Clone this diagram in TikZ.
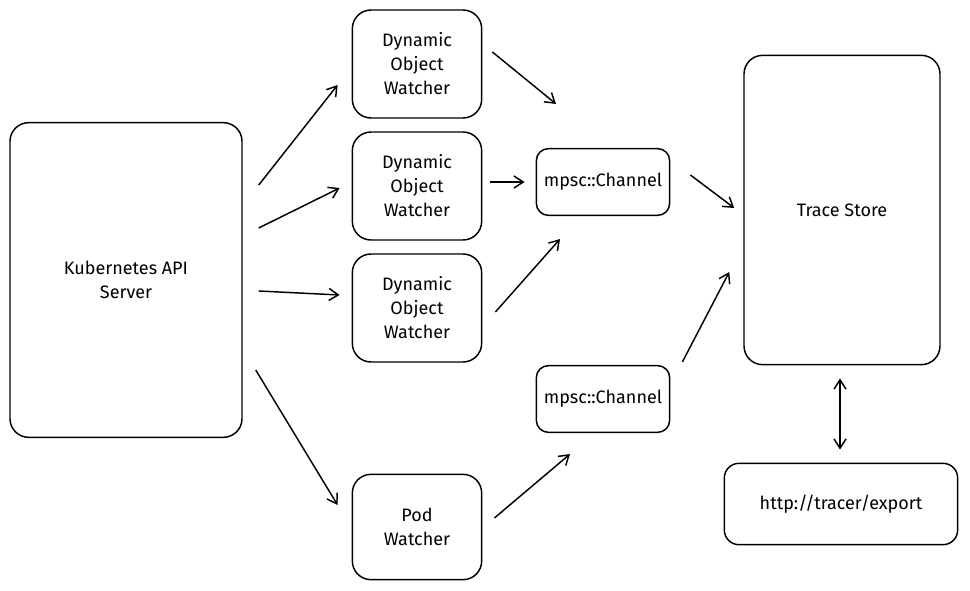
\documentclass[tikz,border=0pt]{standalone}
\usepackage{fontspec}
\setmainfont{Fira Sans}
\usetikzlibrary{arrows.meta, calc, positioning}
\tikzset{
  box/.style={rectangle, rounded corners=14pt, draw=black, line width=1.1pt, align=center,
    font=\fontsize{13.5}{18}\selectfont, inner sep=0pt},
  arrow/.style={line width=1.1pt, -{Straight Barb[length=7pt, width=9pt]}}
}
\begin{document}
\begin{tikzpicture}[x=0.75pt, y=-0.75pt]
  \useasboundingbox (0,0) rectangle (970,591);
  \node (k8s) [box, minimum width=174pt, minimum height=236pt] at (126,280) {Kubernetes API\\Server};
  \node (dow1) [box, minimum width=97pt, minimum height=81pt] at (417,64) {Dynamic\\Object\\Watcher};
  \node (dow2) [box, minimum width=97pt, minimum height=81pt] at (417,186) {Dynamic\\Object\\Watcher};
  \node (dow3) [box, minimum width=97pt, minimum height=81pt] at (417,308) {Dynamic\\Object\\Watcher};
  \node (pod) [box, minimum width=97pt, minimum height=79pt] at (417,527) {Pod\\Watcher};
  \node (ch1) [box, rounded corners=9pt, minimum width=100pt, minimum height=50pt] at (603,182) {mpsc::Channel};
  \node (ch2) [box, rounded corners=9pt, minimum width=100pt, minimum height=50pt] at (603,399) {mpsc::Channel};
  \node (store) [box, minimum width=147pt, minimum height=232pt] at (842,210) {Trace Store};
  \node (http) [box, rounded corners=11pt, minimum width=175pt, minimum height=61pt] at (841,504) {http://tracer/export};

  \draw [arrow] ($(k8s.east)+(16,-95)$) -- ($(dow1.west)+(-14,21)$);
  \draw [arrow] ($(k8s.east)+(16,-52)$) -- ($(dow2.west)+(-12,2)$);
  \draw [arrow] ($(k8s.east)+(16,11)$) -- ($(dow3.west)+(-12,-13)$);
  \draw [arrow] ($(k8s.east)+(13,90)$) -- ($(pod.west)+(-14,-22)$);
  \draw [arrow] ($(dow1.east)+(10,-12)$) -- ($(ch1.north)+(-47,-44)$);
  \draw [arrow] ($(dow2.east)+(8,-4)$) -- ($(ch1.west)+(-11,0)$);
  \draw [arrow] ($(dow3.east)+(13,4)$) -- ($(ch1.south)+(-43,23)$);
  \draw [arrow] ($(pod.east)+(12,-9)$) -- ($(ch2.south)+(-33,21)$);
  \draw [arrow] ($(ch1.east)+(20,-7)$) -- ($(store.west)+(-9,-2)$);
  \draw [arrow] ($(ch2.north east)+(12,-3)$) -- ($(store.west)+(-14,62)$);
  \draw [line width=1.1pt, {Straight Barb[length=7pt, width=9pt]}-{Straight Barb[length=7pt, width=9pt]}]
    ($(store.south)+(-2,13)$) -- ($(http.north)+(-1,-13)$);
\end{tikzpicture}
\end{document}
